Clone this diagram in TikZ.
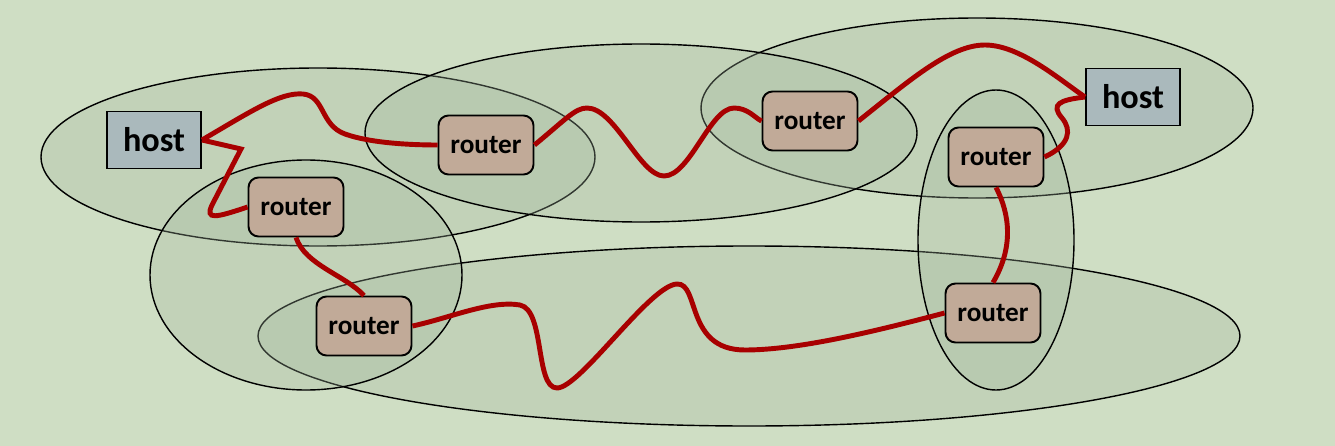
\documentclass[tikz,border=0pt]{standalone}
\usepackage{fontspec}
\setmainfont{Carlito}
\usetikzlibrary{calc}
\definecolor{slidebg}{RGB}{207,222,196}
\definecolor{netfill}{RGB}{164,185,159}
\definecolor{routerfill}{RGB}{193,170,152}
\definecolor{hostfill}{RGB}{170,185,188}
\definecolor{linkred}{RGB}{168,0,0}
\pgfdeclarelayer{back}
\pgfsetlayers{back,main}

\begin{document}
\begin{tikzpicture}[x=0.02cm, y=-0.02cm]
    \tikzset{router/.style={draw, line width=1.1pt, fill=routerfill, rounded corners=2mm,
                minimum width=1.9cm, minimum height=1.18cm, inner sep=0pt,
                font=\fontsize{15.5}{18}\selectfont\bfseries},
             host/.style={draw, line width=1.1pt, fill=hostfill,
                minimum width=1.88cm, minimum height=1.14cm, inner sep=0pt,
                font=\fontsize{19.5}{22}\selectfont\bfseries},
             net/.style={draw, line width=0.8pt, fill=netfill, fill opacity=0.3, draw opacity=1},
             link/.style={draw=linkred, line width=2.8pt}}
    \useasboundingbox (0,0) rectangle (1335,446);

    \node[host] (h1) at (154,140) {host};
    \node[host] (h2) at (1133,97) {host};
    \node[router] (r1) at (296,207) {router};
    \node[router] (r2) at (486,145) {router};
    \node[router] (r3) at (810,121) {router};
    \node[router] (r4) at (996,157) {router};
    \node[router] (r5) at (364,326) {router};
    \node[router] (r6) at (993,313) {router};

    % networks
    \begin{pgfonlayer}{back}
        \fill[slidebg] (0,0) rectangle (1335,446);
        \draw[net] (749,336) ellipse [x radius=491, y radius=90];
        \draw[net] (977,108) ellipse [x radius=276, y radius=90];
        \draw[net] (318,157) ellipse [x radius=277, y radius=89];
        \draw[net] (641,133) ellipse [x radius=276, y radius=89];
        \draw[net] (306,275) ellipse [x radius=156, y radius=115];
        \draw[net] (996,240) ellipse [x radius=78, y radius=150];
    \end{pgfonlayer}

    % links
    \draw[link] (h1.east) .. controls (250,112) and (280,92) .. (303,94)
        .. controls (325,96) and (320,125) .. (345,134)
        .. controls (370,143) and (410,145) .. (r2.west);
    \draw[link] (h1.east) -- (241,149) -- (212,205)
        .. controls (205,220) and (215,218) .. (r1.west);
    \draw[link] (r1.south) .. controls (305,265) and (345,275) .. (r5.north);
    \draw[link] (r2.east) .. controls (565,120) and (575,108) .. (587,108)
        .. controls (615,108) and (640,176) .. (664,176)
        .. controls (690,176) and (710,108) .. (734,108)
        .. controls (748,108) and (755,118) .. (r3.west);
    \draw[link] (r3.east) .. controls (910,80) and (950,45) .. (985,45)
        .. controls (1020,45) and (1060,80) .. (h2.west);
    \draw[link] (r4.east) .. controls (1070,145) and (1072,130) .. (1062,118)
        .. controls (1050,104) and (1060,100) .. (h2.west);
    \draw[link] (r4.south) .. controls (1005,205) and (1018,240) .. (r6.north);
    \draw[link] (r5.east) .. controls (450,318) and (490,300) .. (520,305)
        .. controls (545,310) and (535,388) .. (557,388)
        .. controls (580,388) and (650,285) .. (677,284)
        .. controls (700,283) and (685,350) .. (745,350)
        .. controls (800,350) and (880,330) .. (r6.west);
\end{tikzpicture}
\end{document}
